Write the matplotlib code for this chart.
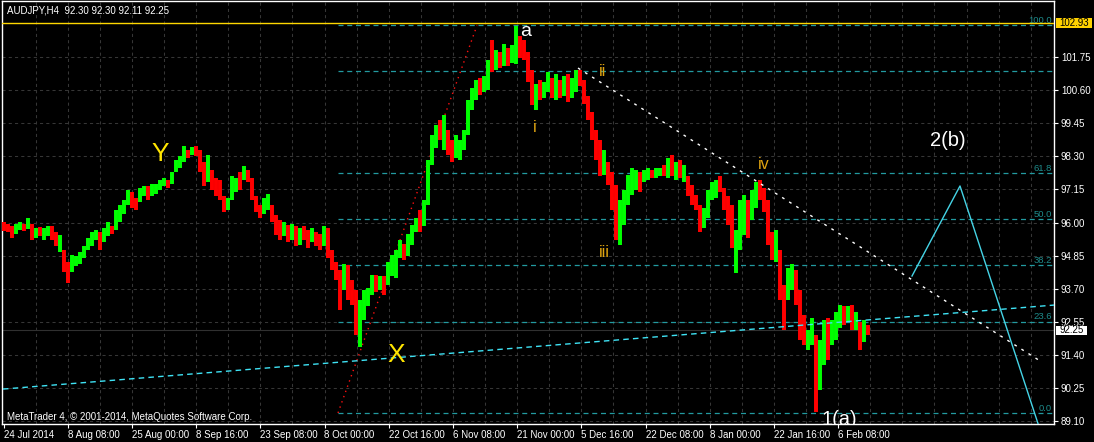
import matplotlib
matplotlib.use("Agg")
import matplotlib.pyplot as plt
import matplotlib.transforms as mtransforms
from matplotlib.patches import Rectangle

plt.rcParams['font.family'] = ['Liberation Sans', 'DejaVu Sans']

# ---------------- data ----------------
chart_title = "AUDJPY,H4  92.30 92.30 92.11 92.25"
copyright_text = "MetaTrader 4, \u00a9 2001-2014, MetaQuotes Software Corp."

highs = [
    96.01, 95.94, 95.87, 95.94, 96.01, 95.94, 96.15, 95.94, 95.81, 95.84,
    95.81, 95.87, 95.87, 95.67, 95.56, 95.04, 94.62, 94.86, 94.83, 94.97,
    95.18, 95.46, 95.67, 95.74, 95.67, 95.81, 96.01, 95.87, 96.43, 96.61,
    96.78, 97.13, 97.06, 96.85, 97.20, 97.27, 97.27, 97.34, 97.34, 97.48,
    97.55, 97.48, 97.76, 98.17, 98.31, 98.66, 98.52, 98.62, 98.66, 98.52,
    98.10, 98.34, 97.82, 97.55, 97.48, 96.92, 96.85, 97.62, 97.55, 97.76,
    97.96, 97.82, 97.55, 96.92, 96.61, 96.85, 96.99, 96.61, 96.26, 96.08,
    96.01, 95.91, 95.94, 95.87, 95.81, 95.87, 95.74, 95.81, 95.67, 95.60,
    95.87, 95.81, 95.04, 94.62, 94.34, 94.55, 94.52, 94.00, 93.65, 93.30,
    93.65, 93.72, 94.17, 94.17, 94.14, 94.14, 94.62, 94.86, 95.04, 95.39,
    95.25, 95.60, 95.91, 96.15, 96.43, 96.78, 98.17, 99.04, 99.39, 99.56,
    99.74, 99.21, 98.87, 99.04, 98.87, 99.21, 100.26, 100.67, 100.95, 101.02,
    101.09, 101.64, 102.34, 101.99, 101.92, 102.20, 102.06, 102.17, 102.83, 102.48,
    102.34, 101.92, 101.30, 100.81, 100.95, 100.88, 101.23, 101.02, 101.16, 100.95,
    101.09, 101.16, 101.02, 101.30, 101.30, 100.95, 100.40, 99.84, 99.21, 98.87,
    98.52, 98.10, 97.76, 97.30, 96.78, 97.13, 97.65, 97.89, 97.82, 97.76,
    97.82, 97.89, 97.82, 97.89, 97.89, 97.99, 98.24, 98.34, 98.10, 98.17,
    97.99, 97.62, 97.30, 96.95, 96.61, 96.50, 97.13, 97.41, 97.48, 97.62,
    97.20, 96.92, 96.61, 95.74, 96.78, 96.95, 96.78, 97.13, 97.41, 97.48,
    97.20, 96.78, 95.67, 95.74, 95.04, 93.82, 94.41, 94.55, 94.34, 93.65,
    92.78, 92.26, 92.68, 92.09, 91.91, 92.61, 92.68, 92.61, 92.88, 93.13,
    93.09, 93.09, 93.13, 92.88, 92.54, 92.61, 92.43,
]

lows = [
    95.70, 95.67, 95.46, 95.60, 95.74, 95.70, 95.77, 95.39, 95.46, 95.53,
    95.39, 95.53, 95.39, 95.18, 94.97, 94.27, 93.89, 94.27, 94.48, 94.55,
    94.76, 95.04, 95.18, 95.39, 95.04, 95.32, 95.53, 95.60, 95.74, 96.01,
    96.29, 96.61, 96.50, 96.43, 96.71, 96.92, 96.78, 96.92, 96.99, 97.13,
    97.27, 97.20, 97.34, 97.76, 97.89, 98.10, 98.24, 98.34, 98.31, 97.76,
    97.27, 97.41, 97.13, 96.92, 96.78, 96.36, 96.43, 96.78, 97.06, 97.13,
    97.48, 97.41, 96.78, 96.36, 96.15, 96.29, 96.43, 96.01, 95.56, 95.39,
    95.53, 95.32, 95.39, 95.18, 95.21, 95.39, 95.11, 95.32, 95.18, 95.04,
    95.18, 94.76, 94.34, 94.00, 92.95, 93.65, 93.30, 93.13, 92.09, 91.67,
    92.61, 93.09, 93.48, 93.58, 93.65, 93.48, 93.82, 94.14, 94.07, 94.76,
    94.69, 94.83, 95.21, 95.67, 95.67, 95.87, 96.61, 98.00, 98.59, 98.87,
    98.52, 98.34, 98.10, 98.24, 98.17, 98.52, 99.04, 99.91, 100.26, 100.43,
    100.53, 100.60, 101.23, 101.30, 101.37, 101.44, 101.44, 101.54, 101.51, 101.72,
    101.65, 100.88, 100.08, 99.91, 100.26, 100.33, 100.53, 100.33, 100.26, 100.33,
    100.40, 100.19, 100.33, 100.53, 100.74, 100.12, 99.56, 98.87, 98.17, 97.62,
    97.65, 97.30, 96.43, 95.39, 95.21, 95.91, 96.61, 96.95, 97.13, 97.06,
    97.41, 97.48, 97.55, 97.55, 97.62, 97.62, 97.55, 97.62, 97.48, 97.55,
    97.41, 96.92, 96.61, 96.43, 95.67, 95.81, 96.15, 96.78, 96.85, 97.06,
    96.43, 95.91, 95.11, 94.24, 95.04, 95.56, 95.46, 96.08, 96.50, 96.78,
    96.36, 95.21, 94.69, 94.62, 93.30, 92.26, 93.30, 93.65, 93.13, 91.91,
    91.74, 91.57, 91.74, 89.41, 90.18, 91.04, 91.22, 91.74, 91.91, 92.33,
    92.43, 92.54, 92.26, 92.26, 91.57, 91.84, 92.09,
]

directions = (
    "RRRGGRGRGR" "GGRRGRRGGG" "GGGGRGGRGG" "GGRRGGRGGG" "GRGGGGRGRR"
    "RGRRRRGGGR" "GRRRRGGRRR" "GRGRGRRGRR" "GRRRRGRRRG" "GGGRGRGGGG"
    "RGGGRGGGGR" "GRRGGGGGGR" "GGRGRGRGGR" "RRRGRGGRGR" "GRGGRRRRRR"
    "GRRRGGGGGR" "GGRGGRGRGR" "GRRRRGGGGR" "RRRGGGRGGR" "RRRGRRGGRR"
    "RGGRGGRGGG" "RGRGRGR"
)

date_labels = ["24 Jul 2014", "8 Aug 08:00", "25 Aug 00:00", "8 Sep 16:00",
               "23 Sep 08:00", "8 Oct 00:00", "22 Oct 16:00", "6 Nov 08:00",
               "21 Nov 00:00", "5 Dec 16:00", "22 Dec 08:00", "8 Jan 00:00",
               "22 Jan 16:00", "6 Feb 08:00"]
price_ticks = [89.10, 90.25, 91.40, 92.55, 93.70, 94.85, 96.00, 97.15,
               98.30, 99.45, 100.60, 101.75]

hline_price = 102.93
bid_price = 92.25

fib_low = 89.38
fib_high = 102.85
fib_levels = [0.0, 23.6, 38.2, 50.0, 61.8, 88.2, 100.0]
fib_labelled = [0.0, 23.6, 38.2, 50.0, 61.8, 100.0]
fib_anchor_idx = [83.5, 118.25]

support_idx = [-0.25, 262.5]
support_px = [90.21, 93.13]
resist_idx = [143.5, 259.0]
resist_px = [101.37, 91.19]
proj_idx = [227.0, 239.0, 260.25]
proj_px = [94.14, 97.27, 88.27]

wave_labels = [
    ("Y", 39.0, 98.14, "#FFE500", 19),
    ("X", 98.0, 91.15, "#FFE500", 19),
    ("a", 130.5, 102.48, "white", 14),
    ("i", 132.75, 99.16, "#E0A410", 11.5),
    ("ii", 149.5, 101.09, "#E0A410", 11.5),
    ("iii", 150.0, 94.80, "#E0A410", 11.5),
    ("iv", 190.0, 97.86, "#E0A410", 11.5),
    ("2(b)", 236.0, 98.66, "white", 14.5),
    ("1(a)", 208.75, 88.96, "white", 14.5),
]

# ---------------- figure ----------------
W, H = 1094, 442
fig = plt.figure(figsize=(W / 100, H / 100), dpi=100, facecolor="black")
ax = fig.add_axes([2 / W, (H - 424) / H, 1052 / W, 423 / H])
ax.set_facecolor("black")

xmin, xmax = -0.5, 262.5
ymin, ymax = 88.996, 103.70
ax.set_xlim(xmin, xmax)
ax.set_ylim(ymin, ymax)

grid_c = "#363636"
for p in price_ticks:
    ax.axhline(p, color=grid_c, lw=0.75, ls=(0, (3, 3)), zorder=0)
gx = -0.125 + 8.025
while gx < xmax:
    ax.axvline(gx, color=grid_c, lw=0.75, ls=(0, (3, 3)), zorder=0)
    gx += 8.025

# bid line
ax.axhline(bid_price, color="#303030", lw=0.8, zorder=1)

# fib levels
fib_c = "#229AA0"
for lv in fib_levels:
    p = fib_low + (fib_high - fib_low) * lv / 100.0
    ax.plot([fib_anchor_idx[0], xmax], [p, p], color=fib_c, lw=0.9,
            ls=(0, (4, 3)), zorder=2)
ytr = ax.get_yaxis_transform()
for lv in fib_labelled:
    p = fib_low + (fib_high - fib_low) * lv / 100.0
    ax.text(1050 / 1052, p + 0.07, f"{lv:.1f}", transform=ytr, ha="right",
            va="baseline", color="#1E8C8C", fontsize=6.8, zorder=3)
ax.plot(fib_anchor_idx, [fib_low, fib_high], color="#FF1010", lw=1.0,
        ls=(0, (1, 3)), zorder=2)

# bars
idx = list(range(len(highs)))
cols = ["#00FF00" if d == "G" else "#FF0000" for d in directions]
ax.vlines(idx, lows, highs, colors=cols, linewidth=2.85, zorder=4)

# yellow horizontal line
ax.axhline(hline_price, color="#FFD700", lw=1.0, zorder=5)

# trend lines
ax.plot(support_idx, support_px, color="#3FE3F5", lw=1.0, ls=(0, (4, 3)), zorder=5)
ax.plot(resist_idx, resist_px, color="white", lw=1.0, ls=(0, (2, 4)), zorder=5)
ax.plot(proj_idx, proj_px, color="#45D4E6", lw=1.0, zorder=5)

# wave labels
for txt, xi, py, c, s in wave_labels:
    ax.text(xi, py, txt, color=c, fontsize=s, ha="center", va="baseline",
            zorder=6, clip_on=True)

# axes styling
for sp in ax.spines.values():
    sp.set_color("white")
    sp.set_linewidth(1.0)

ax.yaxis.tick_right()
ax.set_yticks(price_ticks, labels=[f"{p:.2f}" for p in price_ticks])
ax.tick_params(axis="y", direction="out", length=3, width=0.8, colors="white",
               labelsize=7, pad=2)

tick_idx = [-0.125 + 16.05 * k for k in range(len(date_labels))]
ax.set_xticks(tick_idx, labels=date_labels)
ax.tick_params(axis="x", direction="out", length=3, width=0.8, colors="white",
               labelsize=7, pad=1)
for lbl in ax.get_xticklabels():
    lbl.set_horizontalalignment("left")

# price boxes on the right scale
def price_box(price, text, fc, wpx):
    hp = 9.5 * (ymax - ymin) / 423
    ax.add_patch(Rectangle((1 + 2 / 1052, price - hp / 2), wpx / 1052, hp,
                           transform=ytr, facecolor=fc, edgecolor="none",
                           clip_on=False, zorder=10))
    ax.text(1 + (2 + wpx / 2) / 1052, price, text, transform=ytr, ha="center",
            va="center", color="black", fontsize=7, clip_on=False, zorder=11)

price_box(hline_price, f"{hline_price:.2f}", "#FFD200", 36)
price_box(bid_price, f"{bid_price:.2f}", "white", 31)

# title & copyright
fig.text(7 / W, 1 - 10.5 / H, chart_title, color="white", fontsize=7,
         ha="left", va="center")
fig.text(7 / W, 1 - 416.5 / H, copyright_text, color="white", fontsize=7,
         ha="left", va="center")

fig.savefig("out.png", dpi=100, facecolor="black")
